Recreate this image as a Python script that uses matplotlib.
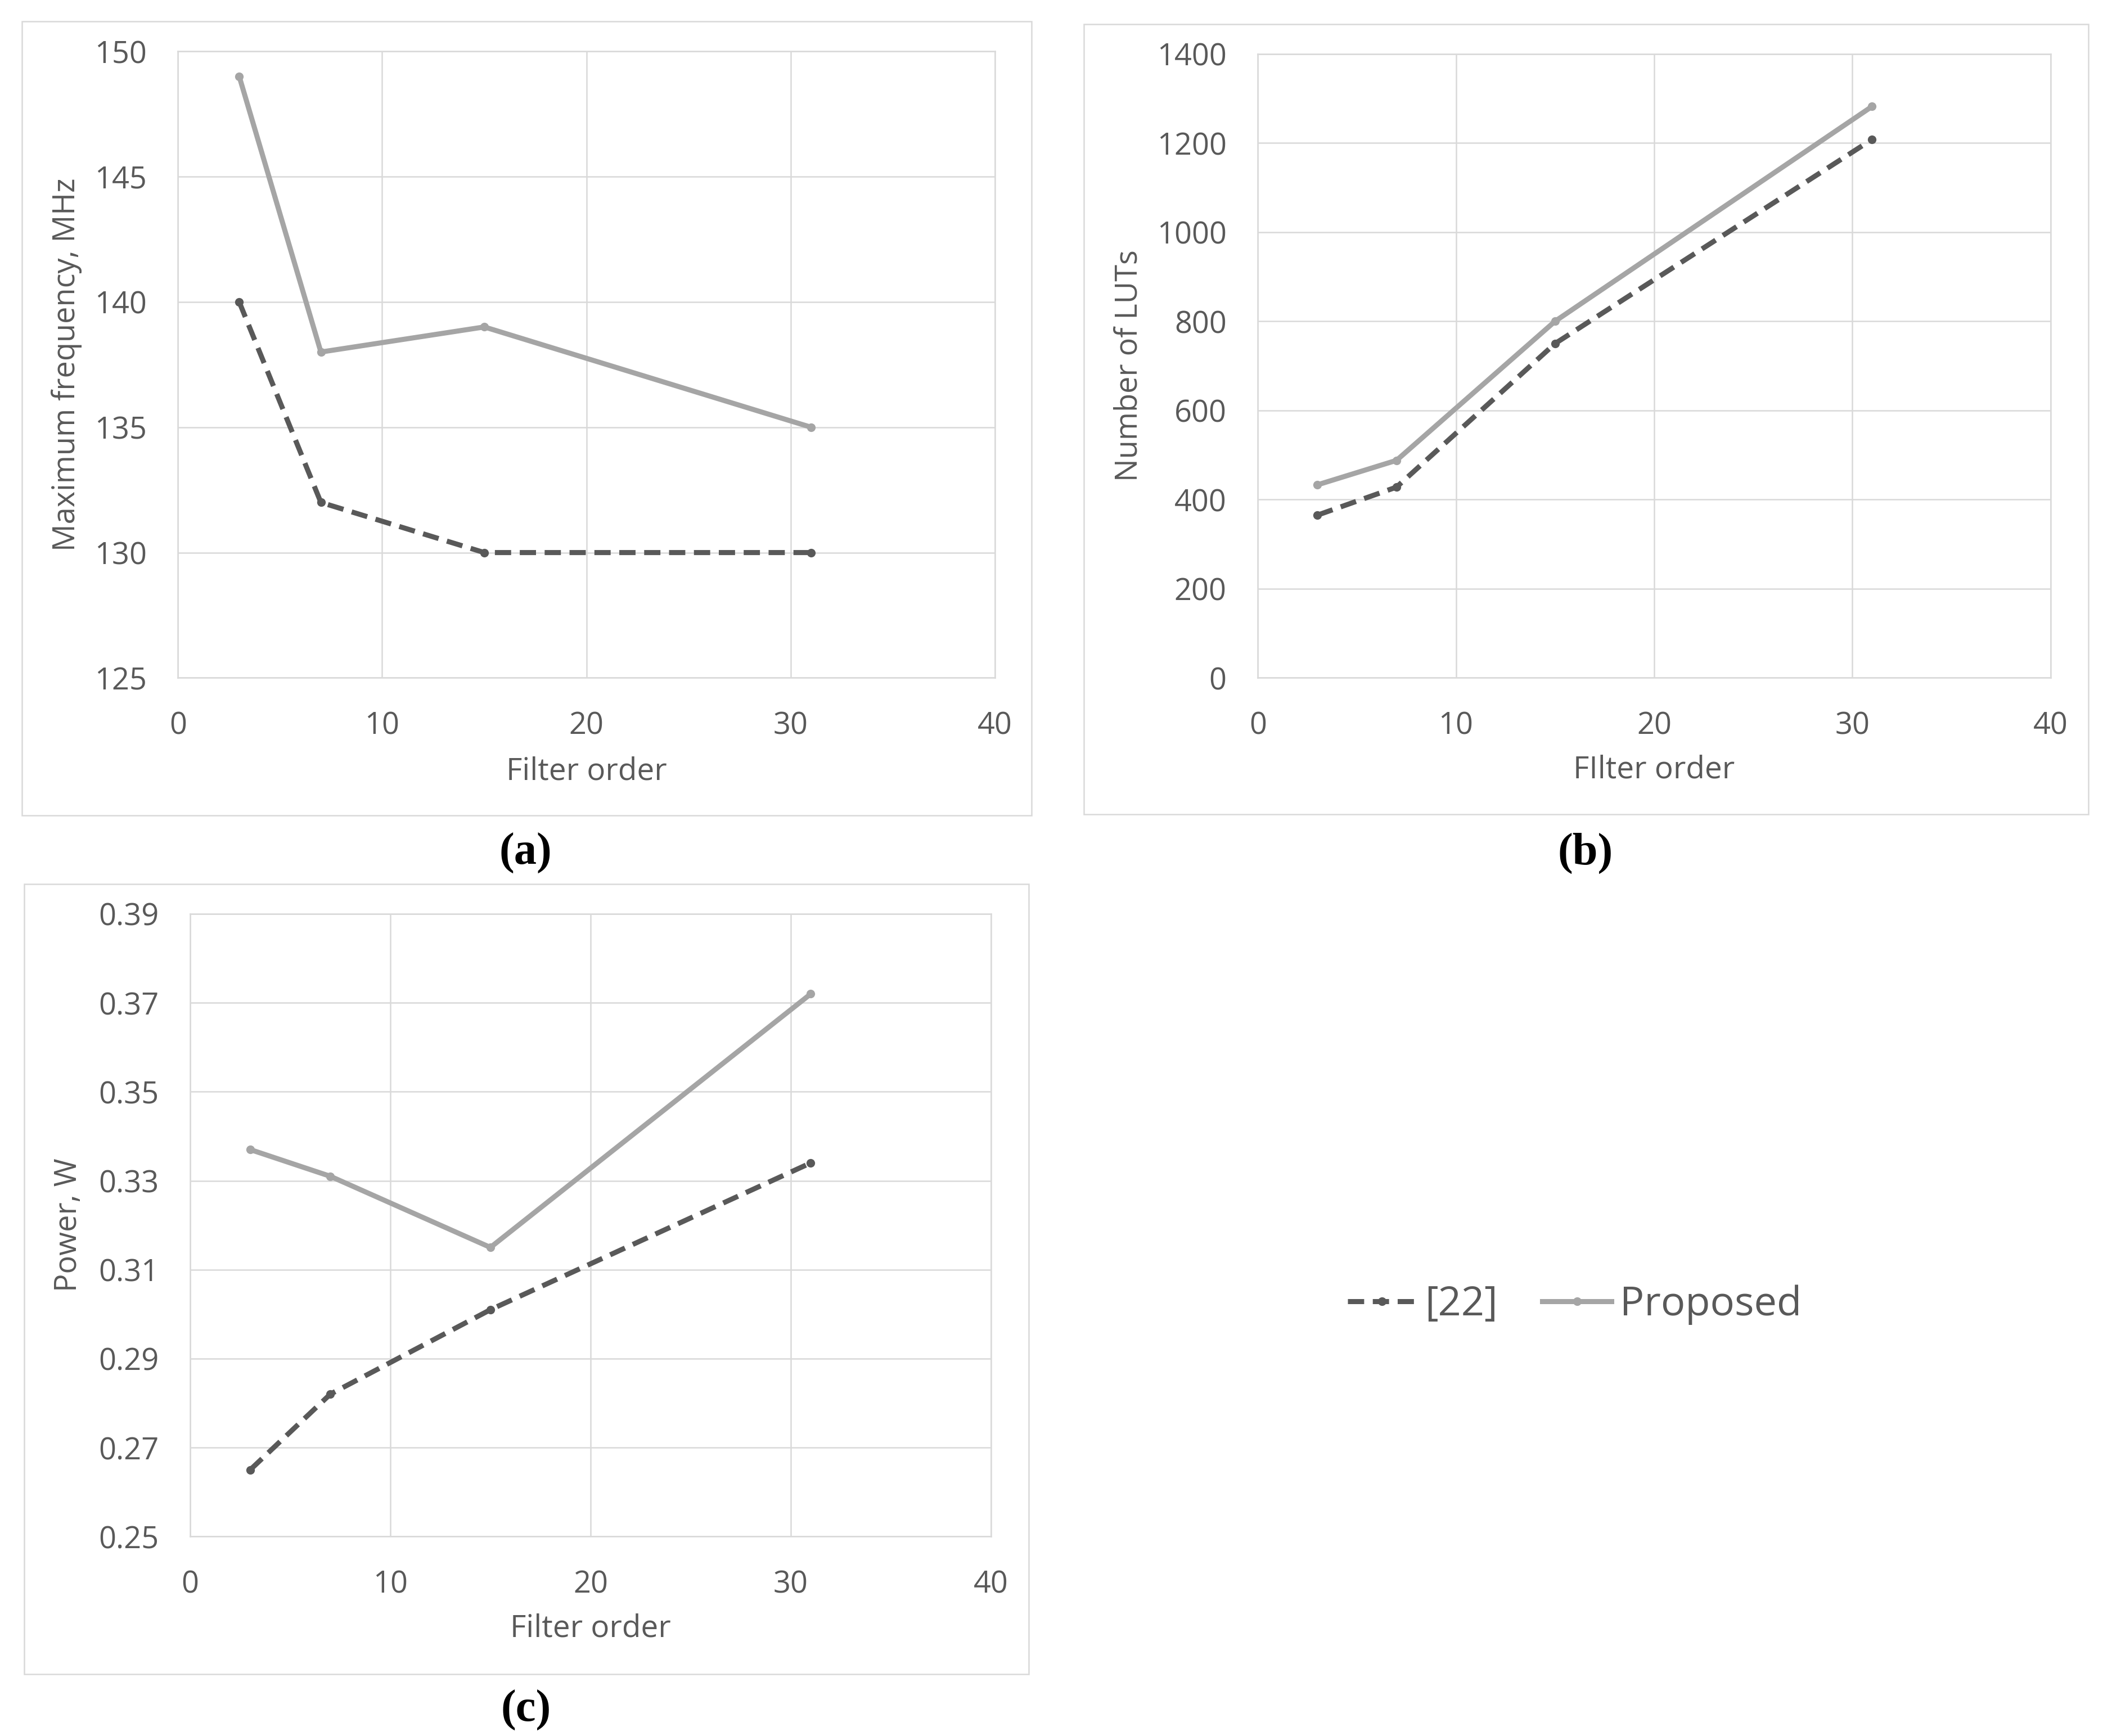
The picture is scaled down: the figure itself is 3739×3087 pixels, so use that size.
import matplotlib
matplotlib.use("Agg")
import matplotlib.pyplot as plt
from matplotlib.patches import Rectangle
from matplotlib.ticker import FormatStrFormatter

# filter orders shared by all panels
orden = [3, 7, 15, 31]

# (a) maximum frequency, MHz
freq_ref22 = [140, 132, 130, 130]
freq_prop = [149, 138, 139, 135]

# (b) number of LUTs
luts_ref22 = [365, 428, 750, 1208]
luts_prop = [433, 488, 800, 1282]

# (c) power, W
pot_ref22 = [0.265, 0.282, 0.301, 0.334]
pot_prop = [0.337, 0.331, 0.315, 0.372]

nombres = ["[22]", "Proposed"]
xticks = [0, 10, 20, 30, 40]

GRIS_OSC = "#595959"
GRIS_CLARO = "#a5a5a5"
REJILLA = "#d9d9d9"
TEXTO = "#595959"

plt.rcParams["font.family"] = ["Open Sans", "DejaVu Sans"]

fig = plt.figure(figsize=(37.39, 30.87), dpi=100)

# panel frames (figure coords)
marcos = [
    (0.0103, 0.5303, 0.4801, 0.4573),
    (0.5154, 0.5310, 0.4776, 0.4550),
    (0.0115, 0.0357, 0.4776, 0.4550),
]
for (x, y, w, h) in marcos:
    fig.patches.append(Rectangle((x, y), w, h, transform=fig.transFigure,
                                 fill=False, edgecolor=REJILLA, linewidth=1.8))


def panel(rect, y1, y2, yticks, ylabel, xlabel, ylab_x, xlab_y, fmt=None):
    ax = fig.add_axes(rect)
    ax.plot(orden, y1, color=GRIS_OSC, linestyle=(0, (3.2, 1.7)), linewidth=6.5,
            marker="o", markersize=10, label=nombres[0])
    ax.plot(orden, y2, color=GRIS_CLARO, linestyle="-", linewidth=6.5,
            marker="o", markersize=10, label=nombres[1])
    ax.set_xlim(xticks[0], xticks[-1])
    ax.set_ylim(yticks[0], yticks[-1])
    ax.set_xticks(xticks)
    ax.set_yticks(yticks)
    if fmt:
        ax.yaxis.set_major_formatter(FormatStrFormatter(fmt))
    ax.grid(True, color=REJILLA, linewidth=1.8)
    ax.set_axisbelow(True)
    for s in ax.spines.values():
        s.set_color(REJILLA)
        s.set_linewidth(1.8)
    ax.tick_params(length=0, labelsize=39, labelcolor=TEXTO)
    ax.tick_params(axis="y", pad=40)
    ax.tick_params(axis="x", pad=42)
    ax.set_ylabel(ylabel, fontsize=39, color=TEXTO)
    ax.set_xlabel(xlabel, fontsize=39.5, color=TEXTO)
    ax.yaxis.set_label_coords(ylab_x, 0.5)
    ax.xaxis.set_label_coords(0.5, xlab_y)
    return ax


ax_a = panel([0.0846, 0.6095, 0.3885, 0.3610], freq_ref22, freq_prop,
             [125, 130, 135, 140, 145, 150],
             "Maximum frequency, MHz", "Filter order", -0.117, -0.125)
ax_b = panel([0.5981, 0.6095, 0.3769, 0.3595], luts_ref22, luts_prop,
             [0, 200, 400, 600, 800, 1000, 1200, 1400],
             "Number of LUTs", "FIlter order", -0.143, -0.123)
ax_c = panel([0.0904, 0.1149, 0.3808, 0.3587], pot_ref22, pot_prop,
             [0.25, 0.27, 0.29, 0.31, 0.33, 0.35, 0.37, 0.39],
             "Power, W", "Filter order", -0.133, -0.123, fmt="%.2f")

# captions
for txt, x, y in [("(a)", 0.25, 0.5085), ("(b)", 0.7538, 0.5085), ("(c)", 0.25, 0.0148)]:
    fig.text(x, y, txt, ha="center", va="center", fontsize=58, fontweight="bold",
             family=["Liberation Serif", "DejaVu Serif"], color="black")

h, l = ax_a.get_legend_handles_labels()
fig.legend(h, l, loc="center", bbox_to_anchor=(0.7487, 0.2484), ncol=2, frameon=False,
           fontsize=52, labelcolor=TEXTO, handlelength=1.7, handletextpad=0.2,
           columnspacing=1.1, numpoints=1)

fig.savefig("out.png", dpi=100, facecolor="white")
